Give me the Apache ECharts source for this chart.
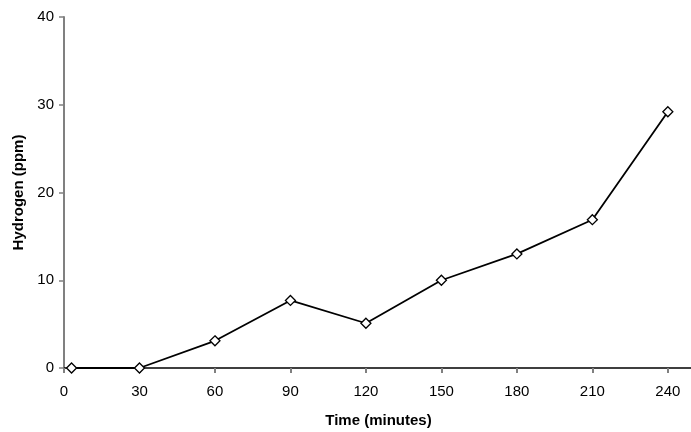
<!DOCTYPE html>
<html>
<head>
<meta charset="utf-8">
<script src="https://cdn.jsdelivr.net/npm/echarts@6/dist/echarts.min.js"></script>
<style>
  html, body { margin: 0; padding: 0; background: #fff; }
  #chart { width: 691px; height: 432px; }
</style>
</head>
<body>
<div id="chart"></div>
<script>
// time in minutes, hydrogen in ppm
const times = [3, 30, 60, 90, 120, 150, 180, 210, 240];
const hydrogen = [0, 0, 3.1, 7.7, 5.1, 10, 13, 16.9, 29.2];

const chart = echarts.init(document.getElementById('chart'));
chart.setOption({
  animation: false,
  backgroundColor: '#fff',
  textStyle: { fontFamily: 'Liberation Sans, Arial, sans-serif' },
  grid: {
    left: 64,
    width: 629,
    top: 17,
    bottom: 64,
    containLabel: false,
    outerBoundsMode: 'none'
  },
  xAxis: {
    type: 'value',
    min: 0,
    max: 250,
    interval: 30,
    name: 'Time (minutes)',
    nameLocation: 'middle',
    nameGap: 45,
    nameTextStyle: { fontSize: 15, fontWeight: 'bold', color: '#000' },
    axisLine: { lineStyle: { color: '#000', width: 1.5 } },
    axisTick: { show: true, length: 5, lineStyle: { color: '#808080', width: 2 } },
    axisLabel: {
      fontSize: 15,
      color: '#000',
      margin: 16,
      formatter: v => (v % 30 === 0 ? String(v) : '')
    },
    splitLine: { show: false }
  },
  yAxis: {
    type: 'value',
    min: 0,
    max: 40,
    interval: 10,
    name: 'Hydrogen (ppm)',
    nameLocation: 'middle',
    nameGap: 38,
    nameTextStyle: { fontSize: 15, fontWeight: 'bold', color: '#000' },
    axisLine: { show: true, lineStyle: { color: '#808080', width: 2 } },
    axisTick: { show: true, length: 5, lineStyle: { color: '#808080', width: 1.5 } },
    axisLabel: { fontSize: 15, color: '#000', margin: 10 },
    splitLine: { show: false }
  },
  series: [
    {
      type: 'line',
      data: times.map((t, i) => [t, hydrogen[i]]),
      symbol: 'diamond',
      symbolSize: 10,
      showAllSymbol: true,
      itemStyle: { color: '#fff', borderColor: '#000', borderWidth: 1.3 },
      lineStyle: { color: '#000', width: 1.8 },
      z: 3
    }
  ]
});
</script>
</body>
</html>
